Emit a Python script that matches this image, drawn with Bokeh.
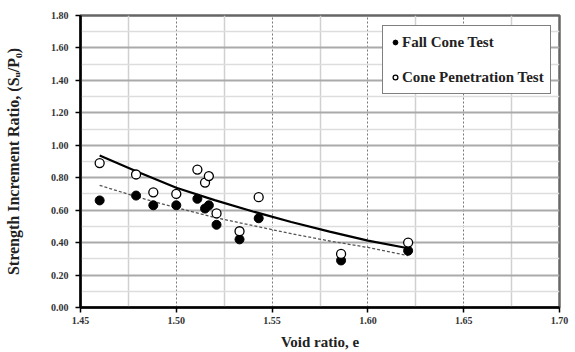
from bokeh.plotting import figure
from bokeh.models import FixedTicker, Legend, LegendItem, Range1d, CustomJSTickFormatter
from bokeh.embed import file_html
from bokeh.resources import INLINE

# Fall cone test (filled)
fall_e = [1.460, 1.479, 1.488, 1.500, 1.511, 1.515, 1.517, 1.521, 1.533, 1.543, 1.586, 1.621]
fall_r = [0.66, 0.69, 0.63, 0.63, 0.67, 0.61, 0.63, 0.51, 0.42, 0.55, 0.29, 0.35]
# Cone penetration test (open)
cpt_e = [1.460, 1.479, 1.488, 1.500, 1.511, 1.515, 1.517, 1.521, 1.533, 1.543, 1.586, 1.621]
cpt_r = [0.89, 0.82, 0.71, 0.70, 0.85, 0.77, 0.81, 0.58, 0.47, 0.68, 0.33, 0.40]
# trend lines
trend_e = [1.460, 1.480, 1.500, 1.520, 1.540, 1.560, 1.580, 1.600, 1.621]
trend_cpt = [0.937, 0.835, 0.738, 0.662, 0.592, 0.527, 0.468, 0.412, 0.365]
trend_fall = [0.753, 0.680, 0.615, 0.555, 0.505, 0.455, 0.410, 0.370, 0.320]

x_ticks = [1.45, 1.50, 1.55, 1.60, 1.65, 1.70]
y_ticks = [0.0, 0.2, 0.4, 0.6, 0.8, 1.0, 1.2, 1.4, 1.6, 1.8]
x_minor = [round((a + b) / 2, 3) for a, b in zip(x_ticks[:-1], x_ticks[1:])]
y_minor = [round((a + b) / 2, 3) for a, b in zip(y_ticks[:-1], y_ticks[1:])]

FONT = "Liberation Serif"

p = figure(width=575, height=352, output_backend="svg", toolbar_location=None,
           x_range=Range1d(x_ticks[0], x_ticks[-1]), y_range=Range1d(y_ticks[0], y_ticks[-1]),
           min_border_left=80, min_border_right=16, min_border_top=15, min_border_bottom=10)

p.xaxis.ticker = FixedTicker(ticks=x_ticks, minor_ticks=x_minor)
p.yaxis.ticker = FixedTicker(ticks=y_ticks, minor_ticks=y_minor)
p.xaxis.formatter = CustomJSTickFormatter(code="return tick.toFixed(2);")
p.yaxis.formatter = CustomJSTickFormatter(code="return tick.toFixed(2);")

for ax in (p.xaxis[0], p.yaxis[0]):
    ax.axis_line_color = "black"
    ax.axis_line_width = 2.5
    ax.major_tick_line_color = "black"
    ax.major_tick_line_width = 1.5
    ax.major_tick_in = 0
    ax.major_tick_out = 5
    ax.minor_tick_line_color = None
    ax.major_label_text_font = FONT
    ax.major_label_text_font_style = "bold"
    ax.major_label_text_font_size = "10px"
    ax.major_label_text_color = "#333333"
    ax.axis_label_text_font = FONT
    ax.axis_label_text_font_style = "bold"
    ax.axis_label_text_color = "#222222"

p.xaxis.axis_label = "Void ratio, e"
p.yaxis.axis_label = "Strength Increment Ratio, (Sᵤ/P₀)"
p.xaxis.axis_label_text_font_size = "15px"
p.yaxis.axis_label_text_font_size = "16px"
p.xaxis.major_label_standoff = 4
p.yaxis.major_label_standoff = 7
p.xaxis.axis_label_standoff = 7
p.yaxis.axis_label_standoff = 26

p.xgrid.grid_line_color = "#777777"
p.xgrid.grid_line_dash = "2 2"
p.xgrid.grid_line_width = 1
p.xgrid.minor_grid_line_color = "#d0d0d0"
p.xgrid.minor_grid_line_width = 1.5
p.ygrid.grid_line_color = "#aaaaaa"
p.ygrid.grid_line_width = 1.8
p.ygrid.minor_grid_line_color = "#dddddd"
p.ygrid.minor_grid_line_width = 1.5

p.outline_line_color = "#666666"
p.outline_line_width = 2.5

p.line(trend_e, trend_cpt, line_color="black", line_width=2.2)
p.line(trend_e, trend_fall, line_color="#555555", line_width=1.3, line_dash="3 2")

r_fall = p.scatter(fall_e, fall_r, size=9, marker="circle", fill_color="black", line_color="black")
r_cpt = p.scatter(cpt_e, cpt_r, size=9, marker="circle", fill_color="white", line_color="black", line_width=1.3)

legend = Legend(items=[LegendItem(label="Fall Cone Test", renderers=[r_fall]),
                       LegendItem(label="Cone Penetration Test", renderers=[r_cpt])],
                location=(302, 213), orientation="vertical")
legend.label_text_font = FONT
legend.label_text_font_style = "bold"
legend.label_text_font_size = "15px"
legend.label_text_color = "#222222"
legend.border_line_color = "black"
legend.border_line_width = 1.5
legend.background_fill_alpha = 1
legend.glyph_width = 12
legend.glyph_height = 20
legend.label_height = 20
legend.label_standoff = 1
legend.spacing = 15
legend.padding = 6
legend.margin = 0
p.add_layout(legend, "center")

open("out.html", "w").write(file_html(p, INLINE))
